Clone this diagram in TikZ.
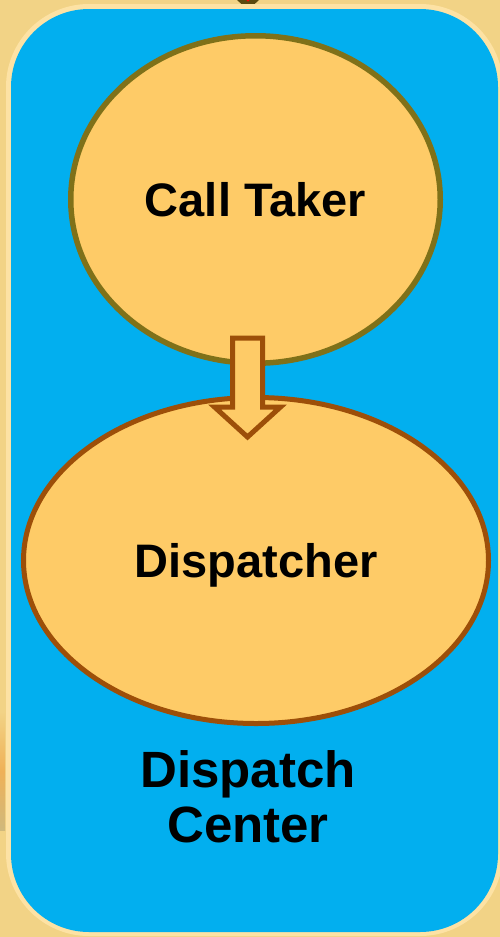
\documentclass[tikz,border=0pt]{standalone}
\usepackage{fontspec}
\setmainfont{Liberation Sans}
\usetikzlibrary{shapes.geometric,calc}

\definecolor{paper}{HTML}{F2D386}
\definecolor{rim}{HTML}{FDE2A4}
\definecolor{panel}{HTML}{02AFEF}
\definecolor{bubble}{HTML}{FECB67}
\definecolor{olive}{HTML}{7F7119}
\definecolor{rust}{HTML}{9D4F09}
\definecolor{tipdark}{HTML}{5C4A0E}

\tikzset{
  role/.style={ellipse, fill=bubble, inner sep=0pt, text height=34pt, text depth=0pt,
    font=\bfseries\fontsize{47}{51}\selectfont, text=black},
  blockarrow/.style={fill=bubble, draw=rust, line width=5pt, line join=miter},
  caption/.style={font=\bfseries\fontsize{51}{55}\selectfont, align=center, text=black, inner sep=0pt}
}

\begin{document}
\begin{tikzpicture}[x=1pt,y=-1pt]
  \useasboundingbox (0,0) rectangle (500,937);

  % paper background
  \fill[paper] (0,0) rectangle (500,937);
  % faint smear at the left edge
  \shade[top color=paper, bottom color=tipdark!60, middle color=orange!70!brown, opacity=0.4]
    (0,712) rectangle (5,830);

  % incoming arrow tip at the top
  \fill[tipdark] (237,0) -- (259,0) -- (248,10) -- cycle;
  \fill[red] (248,0) circle (1.6);

  % dispatch center panel with light rim
  \fill[rim, rounded corners=83pt] (6,4) rectangle (503,936);
  \fill[panel, rounded corners=78pt] (11,9) rectangle (498,932);

  % roles
  \node[role, draw=olive, line width=5.5pt, minimum width=369.5pt, minimum height=327.5pt]
    (ct) at (255.5,199.5) {Call Taker};
  \node[role, draw=rust, line width=5pt, minimum width=465pt, minimum height=326pt]
    (dp) at (256,560.5) {Dispatcher};

  % hollow block arrow from call taker to dispatcher
  \coordinate (a1) at ($(ct.south)+(-8,-28)$);
  \coordinate (a2) at ($(dp.north)+(-8.5,42)$);
  \draw[blockarrow] ($(a1)+(-15,0)$) -- ($(a1)+(15,0)$) -- ($(a2)+(15,-30)$)
    -- ($(a2)+(33,-30)$) -- (a2) -- ($(a2)+(-33,-30)$) -- ($(a2)+(-15,-30)$) -- cycle;

  % panel caption (base anchor sits on the last line)
  \node[caption, anchor=base] (dc) at (248,842) {Dispatch\\Center};
\end{tikzpicture}
\end{document}
